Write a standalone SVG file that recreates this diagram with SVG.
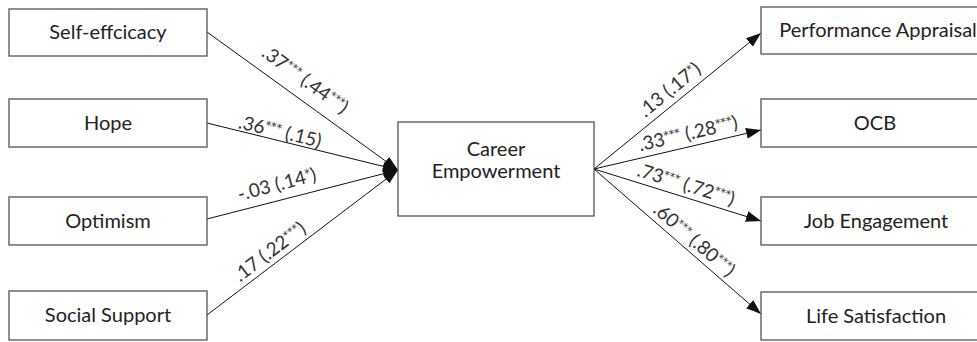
<svg xmlns="http://www.w3.org/2000/svg" width="977" height="342" viewBox="0 0 977 342">
<style>
.box{fill:#fff;stroke:#555;stroke-width:1.3}
.nt{font-family:Lato,"Open Sans","Noto Sans",sans-serif;font-size:20px;fill:#222;text-anchor:middle}
.ln{stroke:#111;stroke-width:1;fill:none;marker-end:url(#ah)}
.lb{font-family:Lato,"Open Sans","Noto Sans",sans-serif;font-size:19px;fill:#333;text-anchor:middle}
.st{font-family:"DejaVu Sans",sans-serif;font-size:11px}
</style>
<defs>
<marker id="ah" markerUnits="userSpaceOnUse" markerWidth="15" markerHeight="11" refX="15" refY="5.5" orient="auto">
<path d="M0,0 L15,5.5 L0,11 z" fill="#111"/>
</marker>
</defs>
<rect width="977" height="342" fill="#fff"/>
<g id="connectors">
<line class="ln" x1="207" y1="32" x2="398" y2="170"/>
<line class="ln" x1="207" y1="123" x2="398" y2="170"/>
<line class="ln" x1="207" y1="219" x2="398" y2="170"/>
<line class="ln" x1="207" y1="315" x2="398" y2="170"/>
<line class="ln" x1="594" y1="169" x2="761" y2="33"/>
<line class="ln" x1="594" y1="169" x2="761" y2="130"/>
<line class="ln" x1="594" y1="169" x2="761" y2="221"/>
<line class="ln" x1="594" y1="169" x2="761" y2="314"/>
<g id="labels">
<text class="lb" transform="translate(305,80) rotate(35.8)" y="6">.37<tspan class="st" dy="-6">***</tspan><tspan dy="6"> (.44</tspan><tspan class="st" dy="-6">***</tspan><tspan dy="6">)</tspan></text>
<text class="lb" transform="translate(280,132) rotate(13.5)" y="6">.36<tspan class="st" dy="-6">***</tspan><tspan dy="6"> (.15)</tspan></text>
<text class="lb" transform="translate(277,185) rotate(-14.7)" y="6">-.03 (.14<tspan class="st" dy="-6">*</tspan><tspan dy="6">)</tspan></text>
<text class="lb" transform="translate(270,252) rotate(-37.4)" y="6">.17 (.22<tspan class="st" dy="-6">***</tspan><tspan dy="6">)</tspan></text>
<text class="lb" transform="translate(670,90) rotate(-39.2)" y="6">.13 (.17<tspan class="st" dy="-6">*</tspan><tspan dy="6">)</tspan></text>
<text class="lb" transform="translate(688,134) rotate(-13.1)" y="6">.33<tspan class="st" dy="-6">***</tspan><tspan dy="6"> (.28</tspan><tspan class="st" dy="-6">***</tspan><tspan dy="6">)</tspan></text>
<text class="lb" transform="translate(686,185) rotate(17.3)" y="6">.73<tspan class="st" dy="-6">***</tspan><tspan dy="6"> (.72</tspan><tspan class="st" dy="-6">***</tspan><tspan dy="6">)</tspan></text>
<text class="lb" transform="translate(694,240) rotate(41)" y="6">.60<tspan class="st" dy="-6">***</tspan><tspan dy="6"> (.80</tspan><tspan class="st" dy="-6">***</tspan><tspan dy="6">)</tspan></text>
</g>
</g>
<g id="self-efficacy"><rect class="box" x="9" y="9" width="198" height="47"/><text class="nt" x="108" y="39">Self-effcicacy</text></g>
<g id="hope"><rect class="box" x="9" y="99" width="198" height="48"/><text class="nt" x="108" y="130">Hope</text></g>
<g id="optimism"><rect class="box" x="9" y="197" width="198" height="48"/><text class="nt" x="108" y="228">Optimism</text></g>
<g id="social-support"><rect class="box" x="9" y="291" width="198" height="49"/><text class="nt" x="108" y="322">Social Support</text></g>
<g id="career-empowerment"><rect class="box" x="398" y="122" width="196" height="94"/><text class="nt" x="496" y="156">Career</text><text class="nt" x="496" y="178">Empowerment</text></g>
<g id="performance-appraisal"><rect class="box" x="761" y="7" width="230" height="47"/><text class="nt" x="878" y="37">Performance Appraisal</text></g>
<g id="ocb"><rect class="box" x="761" y="99" width="230" height="48"/><text class="nt" x="875" y="130">OCB</text></g>
<g id="job-engagement"><rect class="box" x="761" y="197" width="230" height="48"/><text class="nt" x="876" y="228">Job Engagement</text></g>
<g id="life-satisfaction"><rect class="box" x="761" y="292" width="230" height="48"/><text class="nt" x="876" y="323">Life Satisfaction</text></g>
</svg>
